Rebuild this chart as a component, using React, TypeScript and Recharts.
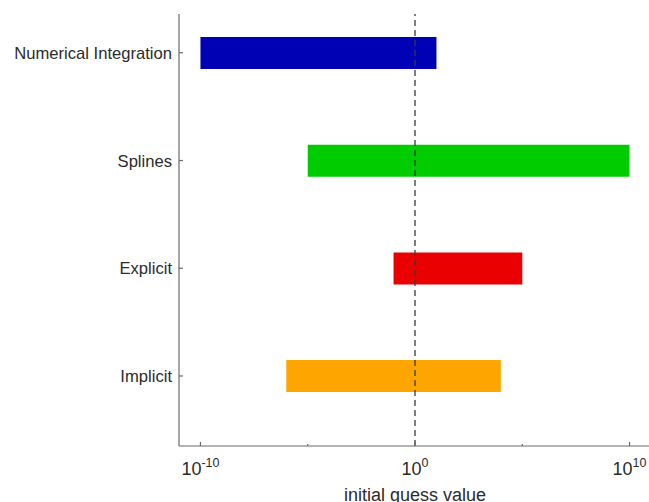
import { BarChart, Bar, XAxis, YAxis, Cell, ReferenceLine, Label } from "recharts";

const categories = ["Numerical Integration", "Splines", "Explicit", "Implicit"];
const positions = [1, 2, 3, 4];
const lowerBounds = [1e-10, 1e-5, 1e-1, 1e-6];
const upperBounds = [1e1, 1e10, 1e5, 1e4];
const barColors = ["#0000B4", "#00CC00", "#EA0000", "#FFA500"];

const xTicks = [1e-10, 1e-5, 1, 1e5, 1e10];
const majorTicks = [1e-10, 1, 1e10];

const FONT = "'Liberation Sans', Arial, Helvetica, sans-serif";
const AXIS = "#6a6a6a";
const TEXT = "#2b2b2b";

const data = categories.map((name, i) => ({
  name,
  pos: positions[i],
  range: [lowerBounds[i], upperBounds[i]],
}));

const nameAt = (p: number) => categories[positions.indexOf(p)] ?? "";

// category labels with short inward tick marks (MATLAB style)
const YTick = (props: any) => {
  const { x, y, payload } = props;
  return (
    <g>
      <line x1={x + 7} x2={x + 11} y1={y} y2={y} stroke={AXIS} strokeWidth={1.2} />
      <text x={x} y={y} dy={6} textAnchor="end" fontSize={16.6} fontFamily={FONT} fill={TEXT}>
        {nameAt(payload.value)}
      </text>
    </g>
  );
};

const XTick = (props: any) => {
  const { x, y, payload } = props;
  const major = majorTicks.includes(payload.value);
  const exp = Math.round(Math.log10(payload.value));
  return (
    <g>
      <line x1={x} x2={x} y1={y} y2={y - (major ? 4 : 2)} stroke={AXIS} strokeWidth={1.2} />
      {major && (
        <text x={x} y={y + 29} textAnchor="middle" fontFamily={FONT} fill={TEXT}>
          <tspan fontSize={18}>10</tspan>
          <tspan fontSize={12.5} dy={-8}>{exp}</tspan>
        </text>
      )}
    </g>
  );
};

export default function App() {
  return (
    <div
      style={{
        position: "absolute",
        left: 0,
        top: 0,
        width: 649,
        height: 502,
        overflow: "hidden",
        background: "#fff",
      }}
    >
      <BarChart
        width={660}
        height={502}
        data={data}
        layout="vertical"
        margin={{ top: 14, right: 9, left: 0, bottom: 0 }}
      >
        <XAxis
          type="number"
          dataKey="range"
          scale="log"
          domain={[1e-11, 1e11]}
          allowDataOverflow
          ticks={xTicks}
          interval={0}
          tickSize={0}
          tickMargin={0}
          tick={<XTick />}
          axisLine={{ stroke: AXIS, strokeWidth: 1.2 }}
          tickLine={false}
          height={56}
        >
          <Label
            value="initial guess value"
            position="insideBottom"
            offset={1}
            fontSize={18}
            fontFamily={FONT}
            fill={TEXT}
          />
        </XAxis>
        <YAxis
          type="number"
          dataKey="pos"
          domain={[0.64, 4.65]}
          allowDataOverflow
          ticks={positions}
          interval={0}
          width={179}
          tickSize={0}
          tickMargin={7}
          tick={<YTick />}
          axisLine={{ stroke: AXIS, strokeWidth: 1.2 }}
          tickLine={false}
        />
        <Bar dataKey="range" barSize={32} isAnimationActive={false}>
          {data.map((d, i) => (
            <Cell key={d.name} fill={barColors[i]} />
          ))}
        </Bar>
        <ReferenceLine x={1} stroke="#3a3a3a" strokeWidth={1.3} strokeDasharray="6 4" />
      </BarChart>
    </div>
  );
}
